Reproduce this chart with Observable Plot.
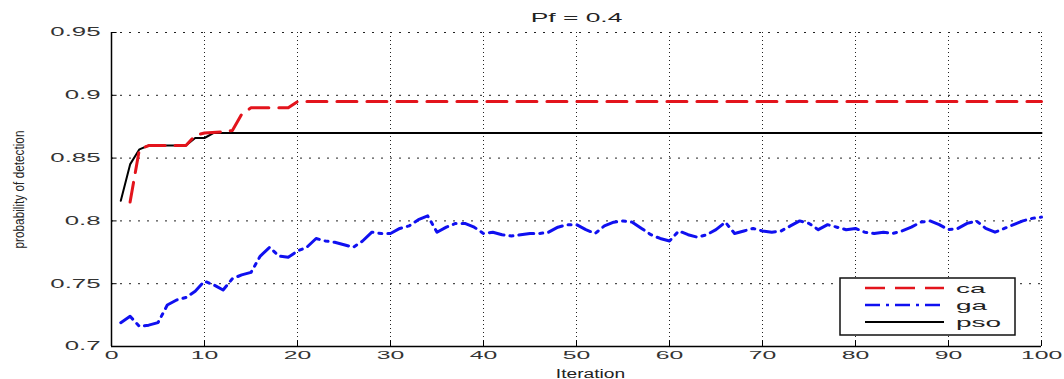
<!DOCTYPE html>
<html>
<head>
<meta charset="utf-8">
<script src="https://cdn.jsdelivr.net/npm/d3@7"></script>
<script src="https://cdn.jsdelivr.net/npm/@observablehq/plot@0.6"></script>
<style>
  html, body { margin: 0; padding: 0; background: #fff; }
  #chart svg { display: block; }
</style>
</head>
<body>
<div id="chart"></div>
<script>
// ---- data ----
const title = "Pf = 0.4";
const xLabel = "Iteration";
const yLabel = "probability of detection";
const xTicks = [0, 10, 20, 30, 40, 50, 60, 70, 80, 90, 100];
const yTicks = [0.7, 0.75, 0.8, 0.85, 0.9, 0.95];
const yTickLabels = ["0.7", "0.75", "0.8", "0.85", "0.9", "0.95"];
const seriesNames = ["ca", "ga", "pso"];

const caIter = [2, 3, 4, 8, 9, 10, 12, 13, 14, 15, 19, 20, 100];
const caVals = [0.815, 0.857, 0.86, 0.86, 0.868, 0.87, 0.871, 0.872, 0.885, 0.89, 0.89, 0.895, 0.895];

const psoIter = [1, 2, 3, 4, 8, 9, 10, 11, 100];
const psoVals = [0.816, 0.845, 0.857, 0.86, 0.86, 0.866, 0.866, 0.87, 0.87];

const gaVals = [
  0.719, 0.724, 0.716, 0.717, 0.719, 0.733, 0.737, 0.739, 0.744, 0.752,
  0.749, 0.745, 0.754, 0.757, 0.759, 0.772, 0.779, 0.772, 0.771, 0.776,
  0.779, 0.786, 0.784, 0.783, 0.781, 0.779, 0.784, 0.791, 0.790, 0.790,
  0.794, 0.796, 0.801, 0.804, 0.791, 0.795, 0.798, 0.798, 0.795, 0.790,
  0.791, 0.789, 0.788, 0.789, 0.790, 0.790, 0.791, 0.795, 0.797, 0.797,
  0.793, 0.790, 0.796, 0.799, 0.800, 0.799, 0.794, 0.789, 0.786, 0.784,
  0.792, 0.789, 0.787, 0.789, 0.793, 0.799, 0.790, 0.792, 0.794, 0.792,
  0.791, 0.792, 0.796, 0.800, 0.798, 0.793, 0.797, 0.795, 0.793, 0.794,
  0.791, 0.790, 0.791, 0.790, 0.792, 0.795, 0.799, 0.800, 0.797, 0.793,
  0.794, 0.798, 0.800, 0.794, 0.791, 0.794, 0.797, 0.800, 0.802, 0.803
];
const gaIter = gaVals.map((_, i) => i + 1);

// ---- build tables ----
const ca = caIter.map((x, i) => ({x, y: caVals[i]}));
const pso = psoIter.map((x, i) => ({x, y: psoVals[i]}));
const ga = gaIter.map((x, i) => ({x, y: gaVals[i]}));

const colors = {ca: "#e3141c", ga: "#1010f0", pso: "#000000"};
const dashes = {ca: "20,10", ga: "15,6,3,6", pso: null};
const widths = {ca: 3, ga: 3, pso: 2};

const font = "'Liberation Sans', Arial, sans-serif";

const chart = Plot.plot({
  width: 1064,
  height: 379,
  marginLeft: 111,
  marginRight: 23,
  marginTop: 32,
  marginBottom: 33,
  style: {fontFamily: font, background: "#fff"},
  x: {domain: [0, 100], label: null},
  y: {domain: [0.7, 0.95], label: null},
  marks: [
    Plot.ruleX(xTicks, {stroke: "#222", strokeWidth: 1, strokeDasharray: "1,3"}),
    Plot.ruleY(yTicks, {stroke: "#222", strokeWidth: 1, strokeDasharray: "2,7"}),
    Plot.ruleX(xTicks, {y1: 0.7, y2: 0.7045, stroke: "#000", strokeWidth: 1}),
    Plot.ruleY(yTicks, {x1: 0, x2: 0.6, stroke: "#000", strokeWidth: 1}),
    Plot.line(pso, {x: "x", y: "y", stroke: colors.pso, strokeWidth: widths.pso}),
    Plot.line(ca, {x: "x", y: "y", stroke: colors.ca, strokeWidth: widths.ca, strokeDasharray: dashes.ca}),
    Plot.line(ga, {x: "x", y: "y", stroke: colors.ga, strokeWidth: widths.ga, strokeDasharray: dashes.ga}),
    Plot.ruleX([0], {stroke: "#000", strokeWidth: 1.5}),
    Plot.ruleY([0.7], {stroke: "#000", strokeWidth: 1.5}),
    Plot.axisX({ticks: xTicks, tickSize: 0, tickPadding: 4, fontSize: 11.5, fill: "#333", label: null,
      tickFormat: d => String(d)}),
    Plot.axisY({ticks: yTicks, tickSize: 0, tickPadding: 11, fontSize: 12, fill: "#333", label: null,
      tickFormat: d => yTickLabels[yTicks.indexOf(d)]}),
    Plot.text([title], {frameAnchor: "top", dy: -19, fontSize: 12, fill: "#222"}),
    Plot.text([xLabel], {frameAnchor: "bottom", textAnchor: "middle", lineAnchor: "bottom", dy: 31, dx: 14, fontSize: 12, fill: "#222"}),
    Plot.text([yLabel], {frameAnchor: "left", textAnchor: "middle", lineAnchor: "middle", dx: -92, rotate: -90, fontSize: 15, fill: "#222"})
  ]
});

document.getElementById("chart").appendChild(chart);
const svg = d3.select(chart);

// legend
const lg = svg.append("g").attr("font-family", font).attr("text-anchor", "start");
lg.append("rect").attr("x", 840).attr("y", 278).attr("width", 175).attr("height", 57)
  .attr("fill", "#fff").attr("stroke", "#111").attr("stroke-width", 1.5);
seriesNames.forEach((name, i) => {
  const yy = 288 + i * 17;
  lg.append("line").attr("x1", 865).attr("x2", 944).attr("y1", yy).attr("y2", yy)
    .attr("stroke", colors[name]).attr("stroke-width", name === "pso" ? 2 : 2.5)
    .attr("stroke-dasharray", dashes[name]);
  lg.append("text").attr("x", 956).attr("y", yy).attr("dy", "0.35em")
    .attr("text-anchor", "start")
    .attr("font-size", 13).attr("fill", "#222").text(name);
});

// horizontal stretch of MATLAB-like text
function stretch(el, factor) {
  const w = el.getComputedTextLength();
  if (w > 0) {
    el.setAttribute("textLength", w * factor);
    el.setAttribute("lengthAdjust", "spacingAndGlyphs");
  }
}
svg.selectAll("text").each(function() {
  const t = this.textContent;
  if (t === yLabel) {
    this.setAttribute("textLength", 118);
    this.setAttribute("lengthAdjust", "spacingAndGlyphs");
  } else if (t === xLabel) {
    stretch(this, 1.6);
  } else if (t === title) {
    stretch(this, 2.2);
  } else {
    stretch(this, 2.15);
  }
});
</script>
</body>
</html>
